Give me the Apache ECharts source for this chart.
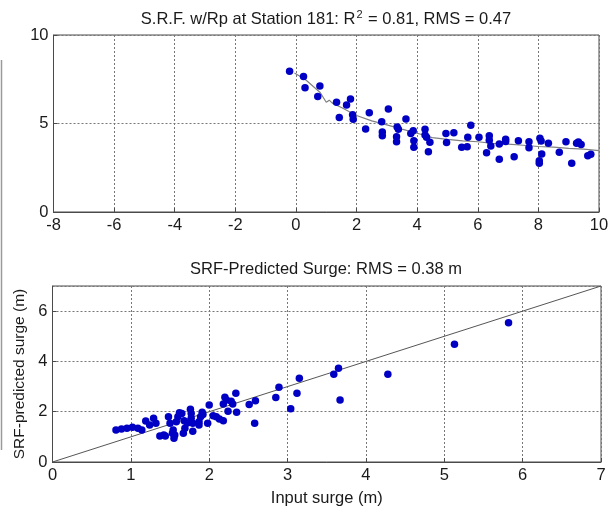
<!DOCTYPE html>
<html>
<head>
<meta charset="utf-8">
<script src="https://cdn.jsdelivr.net/npm/echarts@6/dist/echarts.min.js"></script>
<style>
  html, body { margin: 0; padding: 0; background: #fff; }
  #chart { width: 614px; height: 511px; }
</style>
</head>
<body>
<div id="chart"></div>
<script>
// Upper panel: SRF response vs. Rp, with the fitted curve
const srfX = [-0.21, 0.25, 0.30, 0.79, 0.72, 1.34, 1.67, 1.80, 1.43, 1.87, 1.89, 2.30, 2.42, 2.83, 2.85, 2.85,
  3.05, 3.34, 3.38, 3.32, 3.32, 3.63, 3.79, 3.87, 3.89, 3.89, 4.26, 4.31, 4.42, 4.37, 4.26, 4.95, 4.97, 5.21,
  5.47, 5.65, 5.67, 5.77, 6.04, 6.38, 6.38, 6.43, 6.29, 6.71, 6.71, 6.92, 6.92, 7.20, 7.34, 7.69, 7.69, 8.05,
  8.09, 8.11, 8.03, 8.03, 8.33, 8.69, 8.91, 9.10, 9.26, 9.41, 9.63, 9.73, 9.32];
const srfY = [7.95, 7.66, 7.02, 7.12, 6.53, 6.20, 6.05, 6.38, 5.34, 5.50, 5.24, 4.69, 5.61, 5.10, 4.52, 4.31,
  5.82, 4.80, 4.67, 4.25, 3.97, 5.25, 4.44, 4.59, 4.03, 3.66, 4.67, 4.22, 3.94, 3.41, 4.35, 4.44, 3.92, 4.48,
  3.66, 3.69, 4.22, 4.90, 4.22, 4.31, 4.06, 3.73, 3.35, 3.84, 2.98, 4.11, 3.98, 3.12, 4.03, 3.97, 3.63, 4.16,
  4.01, 3.28, 2.90, 2.75, 3.88, 3.37, 3.97, 2.75, 3.88, 3.82, 3.18, 3.26, 3.95];
const fitX = [-0.05, 0.3, 0.8, 1.0, 1.1, 1.2, 1.5, 2.0, 2.5, 3.0, 3.5, 4.0, 4.5, 5.0, 5.5, 6.0, 6.5, 7.0, 7.5,
  8.0, 8.5, 9.0, 9.5, 10.0];
const fitY = [7.85, 7.50, 6.75, 6.20, 6.32, 6.15, 5.90, 5.45, 5.15, 4.92, 4.68, 4.45, 4.20, 4.10, 4.02, 3.97,
  3.88, 3.84, 3.77, 3.70, 3.66, 3.60, 3.55, 3.47];
const topXTicks = { min: -8, max: 10, step: 2 };
const topYTicks = { min: 0, max: 10, step: 5 };

// Lower panel: predicted vs. input surge, with the 1:1 line
const inputSurge = [0.81, 0.88, 0.95, 1.02, 1.09, 1.14, 1.19, 1.24, 1.29, 1.32, 1.37, 1.44, 1.48, 1.50, 1.54,
  1.56, 1.55, 1.60, 1.58, 1.65, 1.68, 1.69, 1.67, 1.77, 1.77, 1.79, 1.79, 1.76, 1.91, 1.89, 1.87, 1.87, 1.98,
  2.00, 2.05, 2.09, 2.13, 2.18, 2.20, 2.22, 2.18, 2.24, 2.30, 2.34, 2.35, 2.51, 2.59, 2.58, 2.85, 2.89, 3.04,
  3.12, 3.15, 3.59, 3.65, 3.67, 4.28, 5.13, 5.82, 1.62, 1.53, 1.92, 1.72, 2.28, 1.42];
const predictedSurge = [1.27, 1.31, 1.34, 1.38, 1.34, 1.27, 1.63, 1.47, 1.74, 1.54, 1.03, 1.03, 1.80, 1.54, 1.27,
  1.07, 0.94, 1.80, 1.60, 1.93, 1.64, 1.34, 1.14, 1.93, 1.74, 1.54, 1.22, 2.10, 1.98, 1.80, 1.60, 1.47, 1.54,
  2.27, 1.84, 1.80, 1.71, 1.64, 2.58, 2.47, 2.31, 2.02, 2.31, 2.73, 1.98, 2.29, 2.44, 1.54, 2.57, 2.97, 2.12,
  2.73, 3.33, 3.49, 3.73, 2.47, 3.49, 4.68, 5.54, 1.96, 1.14, 1.89, 1.55, 2.42, 1.07];
const oneToOne = [0, 7];
const botXTicks = { min: 0, max: 7, step: 1 };
const botYTicks = { min: 0, max: 7, step: 2 };

const pairs = (xs, ys) => xs.map((x, i) => [x, ys[i]]);

const FONT = 'Liberation Sans, Arial, sans-serif';
const FS = 16.5;
const INK = '#1a1a1a';
const FRAME = '#4a4a4a';
const DOT = '#0000c4';

function axisStyle(ticks, extra) {
  return Object.assign({
    type: 'value',
    min: ticks.min,
    max: ticks.max,
    interval: ticks.step,
    axisLine: { show: true, onZero: false, lineStyle: { color: FRAME, width: 1 } },
    axisTick: { show: true, inside: true, length: 4, lineStyle: { color: FRAME } },
    axisLabel: { color: INK, fontSize: FS, fontFamily: FONT, margin: 5 },
    splitLine: { show: true, lineStyle: { color: '#777', type: [2, 2], width: 1 } }
  }, extra || {});
}

const chart = echarts.init(document.getElementById('chart'), null, { renderer: 'canvas' });

chart.setOption({
  backgroundColor: '#ffffff',
  animation: false,
  title: [
    {
      text: '{a|S.R.F. w/Rp at Station 181: R}{s|2}{a| = 0.81, RMS = 0.47}',
      left: 321, top: 4, textAlign: 'center',
      textStyle: {
        fontWeight: 'normal',
        rich: {
          a: { fontSize: FS, fontWeight: 'normal', fontFamily: FONT, color: INK },
          s: { fontSize: 11, fontWeight: 'normal', fontFamily: FONT, color: INK, padding: [0, 1, 10, 1] }
        }
      }
    },
    {
      text: 'SRF-Predicted Surge: RMS = 0.38 m',
      left: 321, top: 256, textAlign: 'center',
      textStyle: { fontSize: FS, fontWeight: 'normal', fontFamily: FONT, color: INK }
    }
  ],
  grid: [
    { left: 53.5, top: 35, width: 545.5, height: 177, show: true, borderColor: FRAME, borderWidth: 1, backgroundColor: '#fff' },
    { left: 52.5, top: 286, width: 548.5, height: 176, show: true, borderColor: FRAME, borderWidth: 1, backgroundColor: '#fff' }
  ],
  xAxis: [
    axisStyle(topXTicks, { gridIndex: 0 }),
    axisStyle(botXTicks, {
      gridIndex: 1,
      name: 'Input surge (m)', nameLocation: 'middle', nameGap: 28,
      nameTextStyle: { color: INK, fontSize: FS, fontFamily: FONT }
    })
  ],
  yAxis: [
    axisStyle(topYTicks, { gridIndex: 0 }),
    axisStyle(botYTicks, {
      gridIndex: 1,
      axisLabel: { color: INK, fontSize: FS, fontFamily: FONT, margin: 5, showMaxLabel: false },
      name: 'SRF-predicted surge (m)', nameLocation: 'middle', nameGap: 19,
      nameTextStyle: { color: INK, fontSize: 15.5, fontFamily: FONT }
    })
  ],
  series: [
    {
      type: 'line', xAxisIndex: 0, yAxisIndex: 0,
      data: pairs(fitX, fitY), showSymbol: false, symbol: 'none',
      lineStyle: { color: '#808080', width: 1.2 }, z: 3
    },
    {
      type: 'scatter', xAxisIndex: 0, yAxisIndex: 0,
      data: pairs(srfX, srfY), symbolSize: 7.5,
      itemStyle: { color: DOT, opacity: 1 }, z: 4
    },
    {
      type: 'line', xAxisIndex: 1, yAxisIndex: 1,
      data: pairs(oneToOne, oneToOne), showSymbol: false, symbol: 'none',
      lineStyle: { color: '#555', width: 1 }, z: 3
    },
    {
      type: 'scatter', xAxisIndex: 1, yAxisIndex: 1,
      data: pairs(inputSurge, predictedSurge), symbolSize: 7.5,
      itemStyle: { color: DOT, opacity: 1 }, z: 4
    }
  ],
  graphic: [
    {
      type: 'line', silent: true,
      shape: { x1: 1.5, y1: 60, x2: 1.5, y2: 450 },
      style: { stroke: '#9a9a9a', lineWidth: 1.5 }
    }
  ]
});
</script>
</body>
</html>
